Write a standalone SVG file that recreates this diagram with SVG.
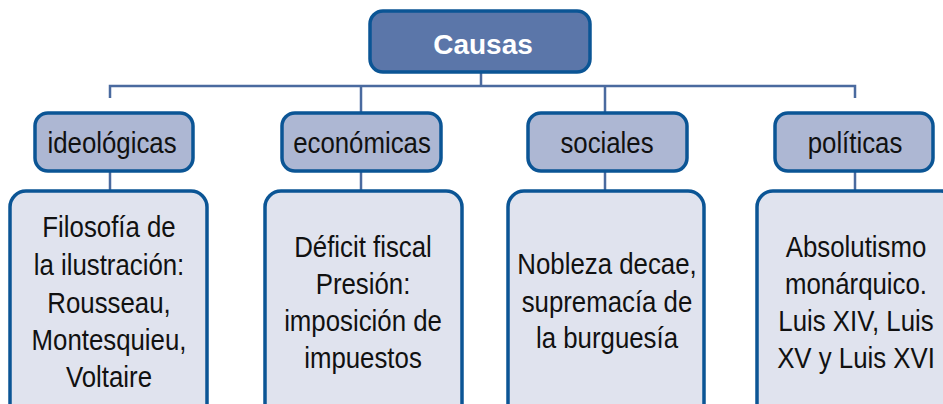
<svg xmlns="http://www.w3.org/2000/svg" width="943" height="404" viewBox="0 0 943 404">
<style>
.root{fill:#5b76a9;stroke:#0b5595;stroke-width:3.5}
.cat{fill:#adb7d3;stroke:#0b5595;stroke-width:3.5}
.det{fill:#e0e3ee;stroke:#0b5595;stroke-width:3.5}
.conn{fill:none;stroke:#4a6a9f;stroke-width:2.5}
text{font-family:"Liberation Sans",Arial,sans-serif;font-size:29px;fill:#111;text-anchor:middle}
.rt{font-weight:bold;fill:#fff;font-size:28px}
</style>
<g id="connectors">
<path class="conn" d="M481 72V86M110 98V86H855V98M361 86V113M605 86V113"/>
<path class="conn" d="M110 171V190M361 171V190M605 171V190M855 171V190"/>
</g>
<g id="causas">
<rect class="root" x="370" y="11" width="220" height="61" rx="13"/>
<text class="rt" x="483" y="54">Causas</text>
</g>
<g id="ideologicas">
<rect class="cat" x="35" y="113" width="158" height="58" rx="13"/>
<g transform="translate(112,0) scale(0.89,1)"><text x="0" y="153">ideológicas</text></g>
</g>
<g id="economicas">
<rect class="cat" x="282" y="113" width="159" height="58" rx="13"/>
<g transform="translate(362,0) scale(0.89,1)"><text x="0" y="153">económicas</text></g>
</g>
<g id="sociales">
<rect class="cat" x="528" y="113" width="159" height="58" rx="13"/>
<g transform="translate(607,0) scale(0.89,1)"><text x="0" y="153">sociales</text></g>
</g>
<g id="politicas">
<rect class="cat" x="775" y="113" width="158" height="58" rx="13"/>
<g transform="translate(855,0) scale(0.89,1)"><text x="0" y="153">políticas</text></g>
</g>
<g id="det-ideologicas">
<rect class="det" x="10" y="191" width="197" height="240" rx="16"/>
<g transform="translate(109,0) scale(0.89,1)">
<text x="0" y="237">Filosofía de</text>
<text x="0" y="275">la ilustración:</text>
<text x="0" y="313">Rousseau,</text>
<text x="0" y="350">Montesquieu,</text>
<text x="0" y="387">Voltaire</text>
</g>
</g>
<g id="det-economicas">
<rect class="det" x="265" y="191" width="197" height="240" rx="16"/>
<g transform="translate(363,0) scale(0.89,1)">
<text x="0" y="257">Déficit fiscal</text>
<text x="0" y="294">Presión:</text>
<text x="0" y="331">imposición de</text>
<text x="0" y="368">impuestos</text>
</g>
</g>
<g id="det-sociales">
<rect class="det" x="508" y="191" width="196" height="240" rx="16"/>
<g transform="translate(607,0) scale(0.89,1)">
<text x="0" y="274">Nobleza decae,</text>
<text x="0" y="312">supremacía de</text>
<text x="0" y="348">la burguesía</text>
</g>
</g>
<g id="det-politicas">
<rect class="det" x="757" y="191" width="200" height="240" rx="16"/>
<g transform="translate(856,0) scale(0.89,1)">
<text x="0" y="257">Absolutismo</text>
<text x="0" y="294">monárquico.</text>
<text x="0" y="331">Luis XIV, Luis</text>
<text x="0" y="368">XV y Luis XVI</text>
</g>
</g>
</svg>
